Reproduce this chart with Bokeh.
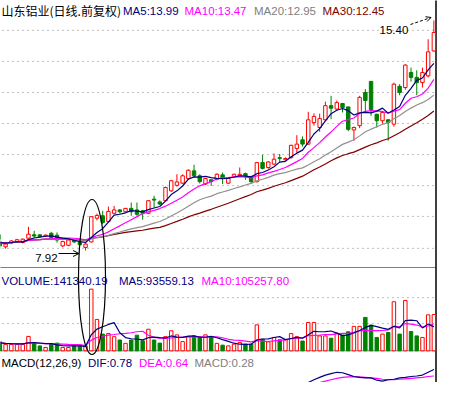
import pandas as pd
from bokeh.plotting import figure
from bokeh.models import Range1d, Label, Arrow, OpenHead, ColumnDataSource
from bokeh.embed import file_html
from bokeh.resources import INLINE

NAN = float("nan")

# ---------------- data ----------------
opens = [8.43, 8.20, 8.04, 8.16, 8.21, 8.18, 8.32, 8.43, 8.43, 8.39,
         8.48, 8.42, 8.07, 8.09, 8.26, 8.18, 8.02, 8.20, 8.97, 9.05,
         8.86, 9.13, 9.24, 9.18, 9.29, 9.24, 9.21, 9.13, 9.59, 9.50,
         9.54, 9.86, 10.04, 10.11, 10.26, 10.51, 10.35, 10.08, 10.22, 10.24,
         10.38, 10.11, 10.33, 10.35, 10.42, 10.32, 10.16, 10.78, 10.62, 10.73,
         10.94, 10.87, 10.94, 11.24, 11.52, 11.38, 12.08, 11.92, 12.17, 12.63,
         12.52, 12.70, 12.59, 11.84, 11.98, 13.06, 13.42, 12.35, 12.14, 12.17,
         12.03, 13.26, 13.22, 13.71, 13.55, 13.38, 13.60, 14.41]
highs = [8.50, 8.28, 8.20, 8.26, 8.30, 8.31, 8.69, 8.56, 8.45, 8.44,
         8.53, 8.51, 8.24, 8.30, 8.28, 8.22, 8.20, 9.04, 9.12, 9.21,
         9.35, 9.37, 9.27, 9.30, 9.48, 9.48, 9.24, 9.56, 9.70, 9.55,
         10.00, 10.22, 10.40, 10.40, 10.56, 10.71, 10.40, 10.28, 10.24, 10.43,
         10.46, 10.28, 10.42, 10.62, 10.45, 10.35, 10.80, 11.03, 10.83, 11.08,
         11.06, 10.95, 11.36, 11.67, 11.63, 12.43, 12.38, 12.37, 12.76, 12.95,
         12.80, 12.72, 12.60, 11.95, 12.95, 13.17, 13.42, 12.37, 12.45, 12.19,
         13.38, 13.33, 13.98, 13.87, 13.78, 13.87, 14.79, 15.40]
lows = [8.22, 7.98, 7.98, 8.13, 8.18, 8.15, 8.30, 8.33, 8.35, 8.36,
        8.33, 8.18, 8.03, 8.06, 8.16, 8.07, 7.92, 8.18, 8.90, 8.78,
        8.83, 9.10, 9.12, 9.15, 9.05, 9.05, 8.92, 9.10, 9.32, 9.40,
        9.52, 9.83, 10.00, 10.08, 10.22, 10.29, 10.10, 10.05, 10.02, 10.20,
        10.08, 10.08, 10.30, 10.33, 10.22, 10.10, 10.13, 10.56, 10.58, 10.70,
        10.78, 10.85, 10.91, 11.10, 11.30, 11.36, 11.98, 11.78, 12.15, 12.19,
        12.50, 12.41, 11.80, 11.49, 11.90, 12.41, 12.30, 11.92, 12.05, 11.49,
        11.95, 12.97, 13.15, 13.41, 12.97, 13.22, 13.55, 14.38]
closes = [8.29, 8.07, 8.13, 8.23, 8.27, 8.29, 8.45, 8.39, 8.37, 8.42,
          8.34, 8.26, 8.21, 8.26, 8.20, 8.11, 8.13, 9.02, 9.06, 8.83,
          9.19, 9.24, 9.18, 9.29, 9.18, 9.10, 9.13, 9.54, 9.56, 9.43,
          9.97, 10.19, 10.15, 10.35, 10.53, 10.35, 10.16, 10.26, 10.16, 10.40,
          10.29, 10.26, 10.40, 10.40, 10.35, 10.16, 10.78, 10.59, 10.80, 10.89,
          10.91, 10.91, 11.34, 11.38, 11.38, 12.17, 12.28, 12.21, 12.63, 12.55,
          12.73, 12.57, 11.86, 11.92, 12.90, 12.80, 12.50, 12.14, 12.41, 12.08,
          13.33, 13.06, 13.95, 13.55, 13.38, 13.71, 14.38, 15.01]
volumes = [26000, 35000, 25000, 25000, 25000, 25000, 56000, 27000, 19000, 13000,
           26000, 30000, 13000, 13000, 19000, 22000, 19000, 240000, 122000, 65000,
           67000, 55000, 42000, 29000, 42000, 61000, 39000, 84000, 42000, 30000,
           55000, 78000, 62000, 36000, 55000, 58000, 53000, 62000, 52000, 29000,
           22000, 19000, 26000, 32000, 26000, 26000, 101000, 45000, 35000, 52000,
           43000, 43000, 67000, 55000, 38000, 110000, 110000, 58000, 58000, 49000,
           69000, 61000, 74000, 95000, 95000, 130000, 100000, 52000, 65000, 71000,
           191000, 65000, 196000, 75000, 58000, 52000, 140000, 141340.19]
# MACD lines (only the upper part is visible in the reference)
dif = [NAN] * 54 + [0.47, 0.50, 0.56, 0.61, 0.66, 0.69, 0.72, 0.71, 0.67, 0.63,
                    0.61, 0.60, 0.60, 0.55, 0.53, 0.56, 0.57, 0.60, 0.61, 0.63,
                    0.64, 0.66, 0.72, 0.78]
dea = [NAN] * 55 + [0.46, 0.48, 0.50, 0.53, 0.56, 0.59, 0.61, 0.62, 0.62, 0.62,
                    0.61, 0.60, 0.59, 0.57, 0.56, 0.56, 0.57, 0.58, 0.59, 0.60,
                    0.61, 0.63, 0.64]

price_grid = [7.99, 9.03, 10.03, 11.04, 12.05, 13.06, 14.07, 15.08]
vol_grid = [106000, 207000]

price_title = "山东铝业(日线.前复权)"
price_items = [("MA5:13.99", "#000080"), ("MA10:13.47", "#FF00FF"),
               ("MA20:12.95", "#808080"), ("MA30:12.45", "#800000")]
vol_items = [("VOLUME:141340.19", "#000080"), ("MA5:93559.13", "#000080"),
             ("MA10:105257.80", "#FF00FF")]
macd_items = [("MACD(12,26,9)", "black"), ("DIF:0.78", "#000080"),
              ("DEA:0.64", "#FF00FF"), ("MACD:0.28", "#808080")]
high_label = "15.40"
low_label = "7.92"

# ---------------- derived series ----------------
n = len(closes)
idx = list(range(n))
cs = pd.Series(closes)
ma5 = cs.rolling(5, min_periods=1).mean().tolist()
ma10 = cs.rolling(10, min_periods=1).mean().tolist()
ma20 = cs.rolling(20, min_periods=1).mean().tolist()
ma30 = cs.rolling(30, min_periods=1).mean().tolist()
vs = pd.Series(volumes)
vma5 = vs.rolling(5, min_periods=1).mean().tolist()
vma10 = vs.rolling(10, min_periods=1).mean().tolist()

RED, GREEN = "#FF0000", "#008000"
up = [c >= o for o, c in zip(opens, closes)]
col = [RED if u else GREEN for u in up]
fill = ["white" if u else GREEN for u in up]
src = ColumnDataSource(dict(
    x=idx, o=opens, h=highs, l=lows, c=closes,
    top=[max(o, c) for o, c in zip(opens, closes)],
    bot=[min(o, c) for o, c in zip(opens, closes)],
    vol=volumes, color=col, fill=fill))

# ---------------- geometry (pixels of the reference) ----------------
W, H = 439, 382
X0, Y0 = 8, 8
BAR0_X, BAR_DX = 1.7, 5.71
BORDER_X = 443


def price_at(y):
    return 15.40 - (y - 28) / 30.75


def price_y(p):
    return 28 + (15.40 - p) * 30.75


def vol_at(y):
    return (358.3 - y) * 3893


def vol_y(v):
    return 358.3 - v / 3893


def macd_at(y):
    return 0.78 - (y - 377) * 0.0215


xl, xr = X0, X0 + W
yt, yb = Y0, Y0 + H

p = figure(width=W, height=H, x_range=Range1d(xl, xr), y_range=Range1d(yb, yt),
           output_backend="svg", toolbar_location=None, min_border=0,
           x_axis_location=None, y_axis_location=None, outline_line_color=None,
           background_fill_color="white", border_fill_color="white")
p.grid.visible = False
p.extra_x_ranges = {"bar": Range1d((xl - BAR0_X) / BAR_DX, (xr - BAR0_X) / BAR_DX)}
p.extra_y_ranges = {"price": Range1d(price_at(yb), price_at(yt)),
                    "vol": Range1d(vol_at(yb), vol_at(yt)),
                    "macd": Range1d(macd_at(yb), macd_at(yt))}

# dotted grid lines
gy = [price_y(g) for g in price_grid] + [vol_y(v) for v in vol_grid]
p.segment(x0=[0] * len(gy), x1=[BORDER_X] * len(gy), y0=gy, y1=gy,
          line_color="#808080", line_width=1, line_dash="1 4")

# panel separators and right border
p.segment(x0=[0, 0], x1=[BORDER_X, BORDER_X], y0=[275, 358.3], y1=[275, 358.3],
          line_color="#808080", line_width=1)
p.segment(x0=[BORDER_X + 0.5], x1=[BORDER_X + 0.5], y0=[5], y1=[400],
          line_color="black", line_width=1.5)

# candles
p.segment(x0="x", y0="h", x1="x", y1="l", line_color="color", line_width=1,
          source=src, x_range_name="bar", y_range_name="price")
p.vbar(x="x", top="top", bottom="bot", width=0.6, fill_color="fill",
       line_color="color", line_width=1, source=src,
       x_range_name="bar", y_range_name="price")

for ma, c in [(ma30, "#800000"), (ma20, "#909090"), (ma10, "#FF00FF"), (ma5, "#000080")]:
    p.line(idx, ma, line_color=c, line_width=1.2, x_range_name="bar", y_range_name="price")

# volume
p.vbar(x="x", top="vol", bottom=0, width=0.6, fill_color="fill",
       line_color="color", line_width=1, source=src,
       x_range_name="bar", y_range_name="vol")
p.line(idx, vma10, line_color="#FF00FF", line_width=1.2, x_range_name="bar", y_range_name="vol")
p.line(idx, vma5, line_color="#000080", line_width=1.2, x_range_name="bar", y_range_name="vol")

# macd
p.line(idx, dea, line_color="#FF00FF", line_width=1.2, x_range_name="bar", y_range_name="macd")
p.line(idx, dif, line_color="#000080", line_width=1.2, x_range_name="bar", y_range_name="macd")

# ---------------- texts ----------------
LAT = "Liberation Sans"
CJK = "Noto Sans CJK SC"


def lab(x, y, t, color="black", font=LAT, size="11.5px"):
    p.add_layout(Label(x=x, y=y, text=t, text_color=color, text_font=font,
                       text_font_size=size, text_baseline="alphabetic",
                       text_align="left"))


# panel headers (kept fully inside the frame)
lab(9, 17.8, price_title, "black", CJK, "12px")
for (t, c), x in zip(price_items, [130.5, 192.0, 261.5, 330.0]):
    lab(x, 18.3, t, c)
for (t, c), x in zip(vol_items, [9, 126.5, 209.0]):
    lab(x, 288.3, t, c)
for (t, c), x in zip(macd_items, [9, 95.5, 146.5, 202.0]):
    lab(x, 370.7, t, c)

# high / low annotations
lab(387, 37, high_label)
p.add_layout(Arrow(x_start=418, y_start=32, x_end=438.5, y_end=25,
                   line_color="black", line_width=1, line_dash="3 2",
                   end=OpenHead(size=5, line_color="black", line_width=1)))
lab(42.7, 265, low_label)
p.add_layout(Arrow(x_start=66, y_start=261, x_end=86.5, y_end=261,
                   line_color="black", line_width=1,
                   end=OpenHead(size=6, line_color="black", line_width=1)))

# hand drawn oval around the turning point
p.ellipse(x=[99.5], y=[284.5], width=[27], height=[155], fill_color=None,
          line_color="black", line_width=1.2)

open("out.html", "w").write(file_html(p, INLINE))
